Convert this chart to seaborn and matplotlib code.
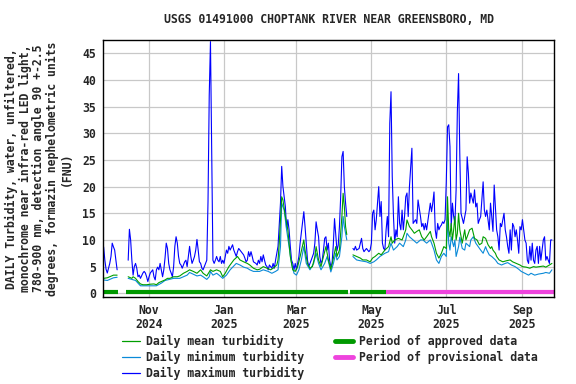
import pandas as pd
import numpy as np
import matplotlib.pyplot as plt
import seaborn as sns
from matplotlib.lines import Line2D

# 1. Données (jours comptés depuis le 2024-09-25)
start = pd.Timestamp('2024-09-25')
seg_breaks = [15, 200]  # trous dans l'enregistrement (octobre et avril)

max_day = [0, 1, 2, 3, 4, 5, 6, 7, 8, 9, 10, 11,
           20, 21, 22, 23, 24, 25, 26, 27, 28, 29, 30, 32, 33, 34, 35, 36, 37, 38, 40,
           41, 42, 43, 44, 45, 46, 47, 48, 49, 50, 51, 52, 53, 54, 55, 56, 57, 58, 59, 60,
           61, 62, 63, 64, 65, 66, 67, 68, 69, 70, 71, 72, 73, 74, 75, 76, 77, 78, 79, 80,
           81, 82, 83, 84, 85, 86, 87, 88, 89, 90, 91, 92, 93, 94, 95, 96, 97, 98, 99, 100,
           101, 102, 103, 105, 106, 107, 108, 109, 110, 112, 113, 114, 115, 116, 117, 118,
           119, 120, 121, 122, 124, 125, 126, 127, 128, 129, 130, 131, 132, 133, 134, 135,
           137, 138, 139, 140, 141, 142, 144, 145, 146, 147, 148, 149, 150, 151, 152, 153,
           154, 155, 156, 157, 159, 160, 163, 164, 165, 166, 167, 168, 169, 171, 172, 173,
           174, 175, 176, 177, 178, 179, 180, 181, 182, 183, 184, 185, 186, 187, 188, 189,
           190, 191, 192, 193, 194, 195, 196, 197, 198,
           203, 204, 205, 206, 208, 210, 211, 212, 214, 216, 217, 218, 219, 220, 221, 222,
           224, 225, 226, 227, 228, 229, 230, 231, 232, 233, 234, 235, 236, 237, 238, 239,
           240, 241, 242, 243, 244, 245, 246, 247, 248, 249, 251, 252, 254, 255, 256, 258,
           259, 260, 261, 262, 263, 266, 267, 268, 269, 270, 271, 272, 273, 274, 275, 276,
           277, 278, 279, 280, 281, 282, 283, 284, 285, 286, 287, 288, 289, 290, 291, 293,
           294, 295, 296, 297, 298, 299, 301, 302, 303, 304, 305, 306, 307, 309, 310, 311,
           312, 313, 314, 315, 316, 317, 318, 319, 320, 321, 322, 323, 324, 326, 327, 328,
           329, 330, 331, 332, 333, 334, 335, 336, 337, 338, 339, 340, 341, 343, 344, 345,
           346, 347, 348, 349, 350, 351, 352, 353, 354, 355, 356, 358, 359, 360, 361, 362,
           363, 364, 365]
max_val = [8.7, 6.2, 4.5, 3.8, 4.7, 5.6, 6.9, 9.4, 8.7, 8.1, 6.2, 4.4,
           6.2, 12.0, 10.0, 6.2, 3.4, 5.0, 5.6, 4.7, 3.1, 3.4, 2.8, 3.8, 4.1, 3.8, 3.1, 2.2, 3.1, 3.8, 4.4,
           3.1, 2.5, 4.4, 4.9, 4.4, 5.6, 4.4, 3.1, 4.4, 6.6, 9.4, 8.4, 5.6, 4.4, 3.8, 3.1, 5.0, 8.8, 10.6, 9.4,
           6.9, 5.6, 5.3, 4.7, 5.3, 5.9, 6.2, 5.0, 6.9, 8.8, 6.9, 5.6, 6.2, 6.9, 8.1, 10.1, 8.1, 5.9, 5.6, 4.7,
           4.4, 5.0, 5.6, 6.2, 17.2, 37.2, 47.2, 26.2, 6.2, 5.6, 6.2, 6.9, 6.2, 5.9, 6.9, 5.6, 6.2, 5.6, 6.9, 8.1,
           7.5, 8.8, 8.1, 9.1, 8.1, 7.5, 6.9, 7.8, 8.4, 7.8, 7.5, 7.2, 6.6, 5.9, 6.2, 7.8,
           6.9, 7.8, 6.9, 5.9, 5.6, 5.3, 6.2, 5.6, 6.9, 5.9, 7.2, 6.2, 5.3, 5.0, 4.4, 5.3,
           4.7, 5.6, 4.7, 6.2, 7.5, 8.8, 16.9, 23.8, 20.0, 18.1, 16.2, 11.9, 13.8, 11.9, 8.8, 6.2,
           5.6, 4.4, 5.6, 4.4, 6.9, 9.4, 15.3, 12.5, 9.4, 6.2, 5.0, 5.6, 6.2, 7.5, 9.4, 13.4,
           11.9, 10.6, 6.9, 5.6, 6.2, 8.1, 10.3, 10.6, 8.1, 9.4, 6.2, 5.0, 5.6, 9.0, 14.0, 11.0,
           8.0, 9.0, 12.5, 18.0, 25.6, 26.6, 20.0, 16.9, 14.4,
           8.4, 8.1, 8.8, 8.1, 8.4, 10.3, 8.4, 7.8, 8.4, 7.8, 8.1, 9.4, 15.0, 15.6, 11.9, 13.8,
           20.0, 14.4, 17.2, 9.4, 8.4, 8.1, 11.9, 14.4, 10.6, 31.9, 37.8, 21.9, 14.4, 9.4, 11.9, 10.6,
           18.1, 13.1, 11.9, 15.6, 11.9, 14.4, 18.1, 18.8, 14.4, 20.0, 27.2, 13.1, 13.8, 13.1, 17.5, 14.4,
           12.5, 13.1, 11.9, 13.1, 11.9, 16.9, 15.3, 16.9, 19.0, 11.9, 10.3, 13.1, 11.9, 12.5, 12.8, 13.4,
           13.1, 13.8, 20.9, 31.2, 31.6, 27.5, 12.5, 16.9, 14.4, 13.1, 19.4, 34.0, 41.2, 26.0, 15.0, 13.1,
           14.4, 15.6, 25.6, 22.5, 16.9, 18.8, 16.9, 19.4, 16.2, 16.9, 13.1, 13.8, 14.4, 20.9, 15.6, 14.4,
           15.6, 13.8, 11.9, 16.9, 14.4, 11.6, 20.3, 16.2, 11.9, 10.6, 8.1, 13.1, 12.5, 15.0, 11.9, 10.6,
           8.8, 7.5, 11.9, 8.1, 13.1, 12.5, 10.6, 11.9, 10.0, 7.5, 12.5, 11.9, 13.8, 10.0, 9.4, 6.2,
           5.6, 8.8, 6.2, 9.4, 6.2, 5.6, 8.1, 8.8, 5.6, 8.8, 6.2, 10.0, 10.6, 6.2, 6.9, 6.2,
           5.6, 10.0, 10.0]

mean_day = [0, 3, 5, 8, 11,
            20, 23, 24, 26, 28, 30, 32, 35, 38, 41, 43, 45, 47, 50, 52, 54, 57, 60, 62, 65,
            68, 70, 73, 76, 79, 81, 84, 86, 87, 89, 92, 95, 97, 99, 102, 106, 109, 111, 114,
            117, 119, 122, 125, 127, 130, 133, 136, 138, 141, 142, 143, 145, 146, 148, 150,
            151, 152, 154, 156, 158, 160, 163, 164, 166, 168, 170, 172, 173, 175, 177, 179,
            181, 183, 185, 187, 189, 190, 192, 194, 195, 196, 197, 198,
            203, 206, 209, 211, 214, 217, 219, 221, 224, 226, 229, 232, 234, 235, 237, 240,
            243, 244, 246, 247, 249, 251, 253, 255, 257, 259, 261, 263, 266, 267, 269, 271,
            273, 275, 277, 279, 280, 281, 282, 283, 284, 285, 286, 287, 288, 289, 290, 292,
            294, 295, 296, 298, 300, 301, 302, 304, 306, 308, 309, 311, 313, 315, 316, 317,
            319, 320, 322, 325, 328, 331, 333, 336, 339, 341, 344, 347, 350, 352, 355, 358,
            360, 363, 365]
mean_val = [2.8, 2.9, 3.1, 3.4, 3.4,
            3.1, 2.8, 3.1, 2.8, 2.2, 1.75, 1.6, 1.6, 1.7, 1.75, 1.6, 2.0, 2.2, 2.5, 2.8, 2.8, 3.1, 3.1, 3.25, 3.75,
            4.1, 4.4, 4.1, 3.75, 4.4, 3.75, 3.25, 4.0, 4.4, 4.1, 4.4, 4.1, 3.1, 3.75, 5.0, 6.25, 6.9, 6.25, 5.9,
            5.6, 5.3, 4.7, 4.4, 4.5, 5.0, 4.7, 4.4, 4.7, 5.3, 6.25, 9.4, 18.1, 17.5, 14.4, 11.9,
            9.4, 6.9, 4.4, 4.1, 5.0, 6.9, 10.0, 8.1, 5.6, 4.7, 5.0, 6.9, 8.75, 6.25, 5.0, 6.9,
            8.75, 6.25, 4.5, 6.5, 8.75, 6.9, 8.1, 14.4, 18.75, 16.25, 12.5, 11.0,
            7.2, 6.9, 6.6, 6.25, 6.25, 5.9, 6.6, 6.9, 7.5, 7.2, 8.1, 8.75, 10.6, 9.4, 10.0, 10.3,
            10.0, 10.6, 11.9, 13.75, 12.5, 11.9, 11.25, 11.6, 11.9, 10.6, 10.0, 10.6, 11.6, 10.6, 9.4, 7.5,
            6.6, 7.5, 8.75, 8.4, 18.1, 11.9, 10.6, 13.1, 10.0, 11.9, 14.4, 10.0, 11.25, 15.0, 11.9, 9.4,
            11.9, 10.0, 10.6, 11.9, 12.2, 11.25, 10.3, 10.0, 9.1, 9.4, 10.6, 10.3, 9.1, 8.4, 8.75, 8.1,
            7.5, 6.9, 6.25, 5.9, 6.1, 6.25, 5.9, 5.6, 5.3, 5.0, 4.9, 4.7, 5.0, 4.9, 5.0, 5.1,
            4.9, 5.3, 5.6]

min_day = [0, 3, 5, 8, 11,
           20, 23, 26, 28, 30, 35, 39, 43, 47, 50, 57, 62, 68, 70, 76, 79, 81, 84, 86, 87,
           89, 92, 94, 97, 100, 103, 108, 111, 114, 117, 119, 122, 127, 130, 134, 137, 140,
           142, 144, 145, 147, 149, 151, 153, 155, 157, 159, 161, 163, 165, 168, 171, 173,
           175, 177, 180, 182, 184, 185, 187, 189, 190, 192, 194, 195, 196, 197, 198,
           203, 206, 209, 214, 217, 220, 222, 225, 229, 232, 234, 236, 239, 241, 244, 246,
           247, 249, 252, 255, 258, 260, 263, 266, 267, 269, 271, 273, 275, 277, 279, 280,
           281, 282, 283, 285, 286, 287, 289, 290, 292, 294, 295, 298, 299, 301, 303, 305,
           307, 309, 311, 312, 314, 316, 319, 321, 324, 327, 329, 332, 335, 338, 340, 343,
           346, 348, 351, 354, 358, 360, 363, 365]
min_val = [2.5, 2.4, 2.6, 2.9, 3.0,
           2.8, 2.6, 2.4, 1.9, 1.4, 1.4, 1.4, 1.4, 1.9, 2.4, 2.8, 2.8, 3.4, 3.9, 3.25, 3.4, 3.1, 2.6, 3.1, 4.1,
           3.4, 3.75, 3.4, 2.8, 3.4, 4.4, 5.6, 5.3, 4.9, 4.7, 4.4, 4.1, 4.1, 4.4, 4.1, 3.75, 4.1,
           4.4, 8.75, 16.9, 15.6, 11.9, 8.75, 5.6, 3.75, 3.4, 4.4, 6.25, 8.75, 5.6, 4.4, 5.6, 7.5,
           5.6, 4.4, 5.6, 6.9, 5.0, 4.0, 5.5, 7.5, 6.25, 6.9, 10.6, 14.4, 12.5, 11.25, 10.0,
           6.9, 6.25, 6.1, 5.9, 5.6, 5.9, 6.25, 6.9, 7.5, 7.8, 9.4, 8.1, 8.75, 9.4, 8.75, 10.0,
           11.25, 10.6, 10.0, 9.4, 10.0, 10.0, 9.4, 10.0, 9.4, 8.1, 6.25, 5.6, 6.9, 7.5, 6.9, 14.4,
           9.4, 8.1, 10.6, 8.75, 10.0, 6.9, 8.75, 10.5, 8.4, 8.1, 9.4, 8.75, 10.0, 10.6, 9.4, 8.75,
           8.1, 7.5, 8.75, 8.1, 7.2, 6.9, 6.25, 5.6, 5.3, 5.6, 5.75, 5.3, 5.0, 4.5, 4.1, 3.75,
           3.4, 3.75, 3.4, 3.6, 3.75, 3.9, 3.75, 4.4]

approved_periods = [('2024-09-24', '2024-10-07'), ('2024-10-13', '2025-04-12'), ('2025-04-14', '2025-05-13')]
provisional_periods = [('2025-05-13', '2025-09-27')]

tick_dates = ['2024-11-01', '2025-01-01', '2025-03-01', '2025-05-01', '2025-07-01', '2025-09-01']
tick_labels = ['Nov\n2024', 'Jan\n2025', 'Mar\n2025', 'May\n2025', 'Jul\n2025', 'Sep\n2025']
y_ticks = [0, 5, 10, 15, 20, 25, 30, 35, 40, 45]

colors = {'max': '#0000ff', 'min': '#0a8ad8', 'mean': '#009e00'}
approved_color = '#009900'
provisional_color = '#ee44dd'


# 2. Mise en forme des données (format long pour seaborn)
def to_frame(days, vals, name):
    d = pd.DataFrame({'day': days, 'value': vals})
    d['date'] = start + pd.to_timedelta(d['day'], unit='D')
    d['series'] = name
    d['unit'] = name + np.searchsorted(seg_breaks, d['day'], side='right').astype(str)
    return d


df = pd.concat([to_frame(max_day, max_val, 'max'),
                to_frame(min_day, min_val, 'min'),
                to_frame(mean_day, mean_val, 'mean')], ignore_index=True)

# 3. Style
sns.set_style('whitegrid', {'grid.color': '#c8c8c8', 'axes.edgecolor': 'black'})
plt.rcParams['font.family'] = ['DejaVu Sans Mono']
plt.rcParams['font.weight'] = 'bold'
fs = 8.3

fig = plt.figure(figsize=(5.76, 3.84), dpi=100)
ax = fig.add_axes([103 / 576, 87 / 384, 451 / 576, 257 / 384])

sns.lineplot(data=df, x='date', y='value', hue='series', hue_order=['max', 'min', 'mean'],
             palette=colors, units='unit', estimator=None, legend=False, linewidth=0.8, ax=ax)

# Barres des périodes approuvées / provisoires
for a, b in approved_periods:
    ax.plot(pd.to_datetime([a, b]), [0.2, 0.2], color=approved_color, lw=3, solid_capstyle='butt')
for a, b in provisional_periods:
    ax.plot(pd.to_datetime([a, b]), [0.2, 0.2], color=provisional_color, lw=3, solid_capstyle='butt')

ax.set_xlim(start - pd.Timedelta(hours=12), start + pd.Timedelta(days=366.7))
ax.set_ylim(-0.7, 47.5)
ax.set_xticks(pd.to_datetime(tick_dates))
ax.set_xticklabels(tick_labels, fontsize=fs, fontweight='bold', linespacing=1.1)
ax.set_yticks(y_ticks)
ax.set_yticklabels([str(v) for v in y_ticks], fontsize=fs, fontweight='bold')
ax.tick_params(axis='both', length=0)
ax.tick_params(axis='x', pad=5)
ax.tick_params(axis='y', pad=5)
ax.grid(True, color='#c8c8c8', lw=0.9)
for s in ax.spines.values():
    s.set_linewidth(1.0)
    s.set_color('black')

ax.set_xlabel('')
ax.set_ylabel('DAILY Turbidity, water, unfiltered,\nmonochrome near infra-red LED light,\n'
              '780-900 nm, detection angle 90 +-2.5\ndegrees, formazin nephelometric units\n(FNU)',
              fontsize=fs, fontweight='bold', linespacing=1.05, labelpad=7)
ax.set_title('USGS 01491000 CHOPTANK RIVER NEAR GREENSBORO, MD', fontsize=fs, fontweight='bold', pad=12)

# 4. Légende (deux blocs sous le graphique)
h1 = [Line2D([], [], color=colors['mean'], lw=0.9),
      Line2D([], [], color=colors['min'], lw=0.9),
      Line2D([], [], color=colors['max'], lw=0.9)]
h2 = [Line2D([], [], color=approved_color, lw=3.5),
      Line2D([], [], color=provisional_color, lw=3.5)]
kw = dict(loc='upper left', frameon=False, borderpad=0, borderaxespad=0, handlelength=1.55,
          handletextpad=0.5, labelspacing=0.25, prop={'family': 'DejaVu Sans Mono', 'weight': 'bold', 'size': fs})
fig.legend(h1, ['Daily mean turbidity', 'Daily minimum turbidity', 'Daily maximum turbidity'],
           bbox_to_anchor=(122 / 576, 1 - 335 / 384), **kw)
fig.legend(h2, ['Period of approved data', 'Period of provisional data'],
           bbox_to_anchor=(335 / 576, 1 - 335 / 384), **kw)

plt.savefig('out.png', dpi=100)
